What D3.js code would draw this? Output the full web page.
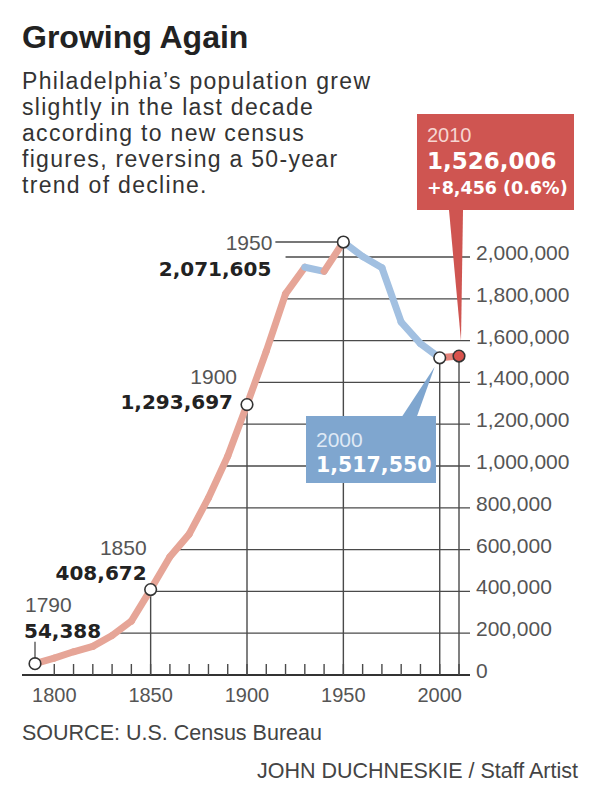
<!DOCTYPE html>
<html><head><meta charset="utf-8">
<script src="https://cdn.jsdelivr.net/npm/d3@7/dist/d3.min.js"></script>
<style>
body{margin:0;background:#fff;}
svg text{font-family:"Liberation Sans",Arial,Helvetica,sans-serif;}
</style></head><body>
<svg id="chart" width="600" height="807"></svg>
<script>
// ---------------- data ----------------
const years = [1790,1800,1810,1820,1830,1840,1850,1860,1870,1880,1890,1900,1910,1920,1930,1940,1950,1960,1970,1980,1990,2000,2010];
const population = [54388,81009,111210,137097,188797,258037,408672,565529,674022,847170,1046964,1293697,1549008,1823779,1950961,1931334,2071605,2002512,1948609,1688210,1585577,1517550,1526006];
const yTickValues = [0,200000,400000,600000,800000,1000000,1200000,1400000,1600000,1800000,2000000];
const xLabelYears = [1800,1850,1900,1950,2000];
const xMinorTickYears = [1800,1810,1820,1830,1840,1850,1860,1870,1880,1890,1900,1910,1920,1930,1940,1950,1960,1970,1980,1990,2000,2010];
const labelYears = [1790,1850,1900,1950];
const dropLineYears = [1850,1900,1950,2000,2010];
const circleYears = [1790,1850,1900,1950,2000,2010];
const titleText = "Growing Again";
const subtitleLines = ["Philadelphia\u2019s population grew","slightly in the last decade","according to new census","figures, reversing a 50-year","trend of decline."];
const box2010 = ["2010","1,526,006","+8,456 (0.6%)"];
const box2000 = ["2000","1,517,550"];
const sourceText = "SOURCE: U.S. Census Bureau";
const creditText = "JOHN DUCHNESKIE / Staff Artist";

// ---------------- setup ----------------
const svg = d3.select("#chart");
const x = d3.scaleLinear().domain([1790,2010]).range([35,459]);
const y = d3.scaleLinear().domain([0,2000000]).range([675,257]);
const popOf = yr => population[years.indexOf(yr)];
const fmt = d3.format(",");
const BOLD = "'DejaVu Sans',Verdana,sans-serif";
const PINK = "#e6a597", BLUE = "#a2c0e1", RED = "#cf5551", RED_SEG = "#e4837a", BLUEBOX = "#7fa6cf";
const GRID = "#4a4a4a";

// title + subtitle
svg.append("text").attr("x",22).attr("y",48).text(titleText)
  .style("font-size","32px").style("font-weight","bold").attr("fill","#222");
svg.append("g").selectAll("text").data(subtitleLines).join("text")
  .attr("x",22).attr("y",(d,i)=>89+i*26).text(d=>d)
  .style("font-size","23px").attr("letter-spacing","1.3").attr("fill","#333");

// gridlines: start where the line first reaches the value (no later than 1920)
function crossYear(v){
  for(let i=1;i<years.length;i++){
    if(population[i]>=v){
      const t=(v-population[i-1])/(population[i]-population[i-1]);
      return years[i-1]+t*(years[i]-years[i-1]);
    }
  }
  return 1920;
}
const gGrid = svg.append("g");
gGrid.selectAll("line").data(yTickValues.filter(v=>v>0)).join("line")
  .attr("x1",v=>x(Math.min(crossYear(v),1920))).attr("x2",470)
  .attr("y1",v=>y(v)).attr("y2",v=>y(v))
  .attr("stroke",GRID).attr("stroke-width",1.3);

// y labels
svg.append("g").selectAll("text").data(yTickValues).join("text")
  .attr("x",476).attr("y",v=>y(v)+3).text(v=>fmt(v))
  .style("font-size","21px").attr("fill","#555");

// drop lines
svg.append("g").selectAll("line").data(dropLineYears).join("line")
  .attr("x1",d=>x(d)).attr("x2",d=>x(d)).attr("y1",d=>y(popOf(d))).attr("y2",y(0))
  .attr("stroke",GRID).attr("stroke-width",1.4);

// x axis
svg.append("line").attr("x1",22).attr("x2",470).attr("y1",y(0)).attr("y2",y(0))
  .attr("stroke","#333").attr("stroke-width",1.8);
svg.append("g").selectAll("line").data(xMinorTickYears).join("line")
  .attr("x1",d=>x(d)).attr("x2",d=>x(d)).attr("y1",y(0)).attr("y2",y(0)-11)
  .attr("stroke",GRID).attr("stroke-width",1.4);
svg.append("g").selectAll("text").data(xLabelYears).join("text")
  .attr("x",d=>x(d)).attr("y",702).attr("text-anchor","middle").text(d=>d)
  .style("font-size","20px").attr("fill","#555");

// label leaders (1790 vertical, 1950 horizontal)
svg.append("line").attr("x1",x(1790)).attr("x2",x(1790)).attr("y1",y(popOf(1790))).attr("y2",y(popOf(1790))-22)
  .attr("stroke",GRID).attr("stroke-width",1.3);
svg.append("line").attr("x1",x(1950)-68).attr("x2",x(1950)).attr("y1",y(popOf(1950))).attr("y2",y(popOf(1950)))
  .attr("stroke",GRID).attr("stroke-width",1.4);

// line segments
const segs = [];
for(let i=1;i<years.length;i++){
  const last = i===years.length-1;
  segs.push({x1:years[i-1],y1:population[i-1],x2:years[i],y2:population[i],
    color: last ? RED_SEG : (population[i]>=population[i-1] ? PINK : BLUE)});
}
svg.append("g").selectAll("line").data(segs).join("line")
  .attr("x1",d=>x(d.x1)).attr("y1",d=>y(d.y1)).attr("x2",d=>x(d.x2)).attr("y2",d=>y(d.y2))
  .attr("stroke",d=>d.color).attr("stroke-width",7).attr("stroke-linecap","round");

// circles
svg.append("g").selectAll("circle").data(circleYears).join("circle")
  .attr("cx",d=>x(d)).attr("cy",d=>y(popOf(d))).attr("r",5.8)
  .attr("fill",d=>d===2010?"#d9524c":"#fff").attr("stroke","#333").attr("stroke-width",1.6);

// point labels
const labelLayout = {
  1790:{anchor:"start", dx:-10, yearDy:-52, valDy:-26, valDx:-11},
  1850:{anchor:"end", dx:-4, yearDy:-35, valDy:-10, valDx:-4},
  1900:{anchor:"end", dx:-10, yearDy:-21, valDy:4, valDx:-14},
  1950:{anchor:"end", dx:-71, yearDy:8, valDy:34, valDx:-72}
};
labelYears.forEach(yr=>{
  const L = labelLayout[yr], px=x(yr), py=y(popOf(yr));
  svg.append("text").attr("x",px+L.dx).attr("y",py+L.yearDy).attr("text-anchor",L.anchor)
    .text(yr).style("font-size","21px").attr("fill","#555");
  svg.append("text").attr("x",px+L.valDx).attr("y",py+L.valDy).attr("text-anchor",L.anchor)
    .text(fmt(popOf(yr))).style("font-size","20px").style("font-family",BOLD).style("font-weight","bold").attr("fill","#222");
});

// 2010 callout
{
  const px=x(2010), py=y(popOf(2010));
  svg.append("path").attr("d",`M${px-10},210 L${px+4},210 L${px+2},${py-15} Z`).attr("fill",RED);
  svg.append("rect").attr("x",417).attr("y",114).attr("width",157).attr("height",96).attr("fill",RED);
  svg.append("text").attr("x",427).attr("y",142).text(box2010[0]).style("font-size","20px").attr("fill","#f6d6d2");
  svg.append("text").attr("x",427).attr("y",169).text(box2010[1]).style("font-family",BOLD).style("font-weight","bold").style("font-size","23px").attr("fill","#fff");
  svg.append("text").attr("x",427).attr("y",194).text(box2010[2]).style("font-family",BOLD).style("font-weight","bold").style("font-size","17.5px").attr("fill","#fff");
}
// 2000 callout
{
  const px=x(2000), py=y(popOf(2000));
  svg.append("path").attr("d",`M${px-38},417 L${px-23},417 L${px-5},${py+9} Z`).attr("fill",BLUEBOX);
  svg.append("rect").attr("x",306).attr("y",416).attr("width",130).attr("height",67).attr("fill",BLUEBOX);
  svg.append("text").attr("x",316).attr("y",447).text(box2000[0]).style("font-size","21px").attr("fill","#dfe9f5");
  svg.append("text").attr("x",316).attr("y",472).text(box2000[1]).style("font-family",BOLD).style("font-weight","bold").style("font-size","20.5px").attr("fill","#fff");
}

// source & credit
svg.append("text").attr("x",22).attr("y",740).text(sourceText).style("font-size","21.5px").attr("fill","#444");
svg.append("text").attr("x",578).attr("y",778).attr("text-anchor","end").text(creditText).style("font-size","21.5px").attr("fill","#444");
</script>
</body></html>
